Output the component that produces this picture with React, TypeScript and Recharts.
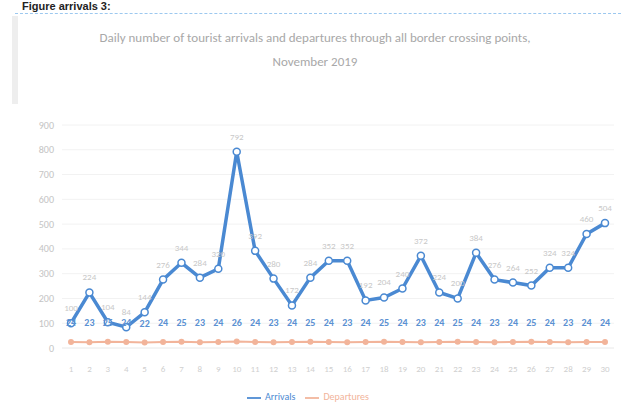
import React from "react";
import { LineChart, Line, XAxis, YAxis, CartesianGrid, Legend, LabelList } from "recharts";

const days: string[] = [
  "1","2","3","4","5","6","7","8","9","10","11","12","13","14","15",
  "16","17","18","19","20","21","22","23","24","25","26","27","28","29","30",
];
const arrivals: number[] = [
  100, 224, 104, 84, 144, 276, 344, 284, 320, 792,
  392, 280, 172, 284, 352, 352, 192, 204, 240, 372,
  224, 200, 384, 276, 264, 252, 324, 324, 460, 504,
];
const departures: number[] = [
  24, 23, 25, 24, 22, 24, 25, 23, 24, 26,
  24, 23, 24, 25, 24, 23, 24, 25, 24, 23,
  24, 25, 24, 23, 24, 25, 24, 23, 24, 24,
];
const yTicks: number[] = [0, 100, 200, 300, 400, 500, 600, 700, 800, 900];

const data = days.map((d, i) => ({ day: d, arrivals: arrivals[i], departures: departures[i] }));

export default function App() {
  return (
    <div style={{ position: "absolute", left: 0, top: 0, width: 621, height: 420, background: "#fff", overflow: "hidden", fontFamily: "Calibri, 'Liberation Sans', Arial, sans-serif" }}>
      <div style={{ position: "absolute", left: 22, top: 0, fontSize: 11, lineHeight: "12px", fontWeight: 700, color: "#222", fontFamily: "'Liberation Sans', Arial, sans-serif", whiteSpace: "nowrap" }}>
        Figure arrivals 3:
      </div>
      <div style={{ position: "absolute", left: 15, right: 0, top: 13, borderTop: "1px dashed #9cc8ef" }} />
      <div style={{ position: "absolute", left: 12, top: 16, width: 6, height: 88, background: "#eeeeee" }} />
      <div style={{ position: "absolute", left: 50, width: 530, top: 26, textAlign: "center", color: "#a8a8a8", fontSize: 13, lineHeight: "24px" }}>
        Daily number of tourist arrivals and departures through all border crossing points,
        <br />
        November 2019
      </div>
      <LineChart
        width={621}
        height={420}
        data={data}
        margin={{ top: 125, right: 7, left: 12, bottom: 12 }}
      >
        <CartesianGrid vertical={false} stroke="#f2f2f2" />
        <XAxis
          dataKey="day"
          padding={{ left: 9, right: 9 }}
          tickLine={false}
          axisLine={{ stroke: "#eeeeee" }}
          interval={0}
          height={30}
          tickMargin={12}
          tick={{ fontSize: 9, fill: "#cfcfcf" }}
        />
        <YAxis
          width={50}
          domain={[0, 900]}
          ticks={yTicks}
          tickLine={false}
          axisLine={false}
          tick={{ fontSize: 10, fill: "#c4c4c4" }}
        />
        <Legend
          verticalAlign="bottom"
          height={30}
          iconType="plainline"
          wrapperStyle={{ fontSize: 10, color: "#bbb", bottom: 0 }}
        />
        <Line
          name="Arrivals"
          dataKey="arrivals"
          stroke="#4a89d2"
          strokeWidth={3.5}
          dot={{ r: 3.5, fill: "#ffffff", stroke: "#4a89d2", strokeWidth: 1.5 }}
          isAnimationActive={false}
        >
          <LabelList dataKey="arrivals" position="top" offset={12} fontSize={9} fill="#c8c8c8" />
        </Line>
        <Line
          name="Departures"
          dataKey="departures"
          stroke="#f2b49a"
          strokeWidth={2}
          dot={{ r: 2, fill: "#f2b49a", stroke: "#f2b49a" }}
          isAnimationActive={false}
        >
          <LabelList dataKey="departures" position="top" offset={16} fontSize={10} fontWeight={700} fill="#5a90d2" />
        </Line>
      </LineChart>
    </div>
  );
}
